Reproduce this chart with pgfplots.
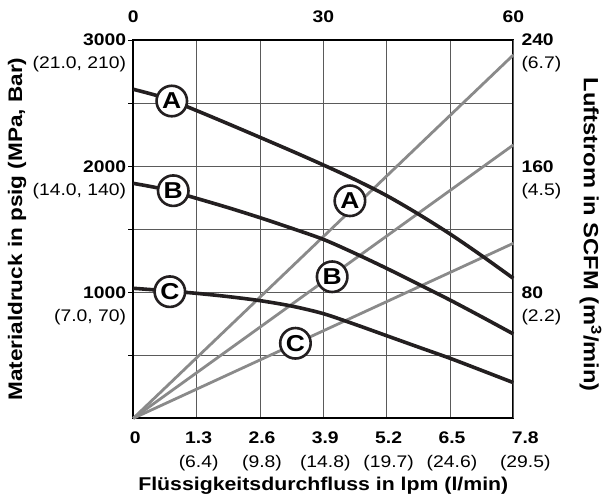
\documentclass[border=0pt]{standalone}
\usepackage{fontspec}
\setmainfont[FakeStretch=1.15]{Liberation Sans}
\usepackage{pgfplots}
\usepackage{pgfplotstable}
\pgfplotsset{compat=1.18}

\definecolor{curve}{HTML}{231F20}
\definecolor{air}{HTML}{8A8A8A}
\definecolor{gridc}{HTML}{5A5A5A}

\pgfplotstableread{
x y
0    2609
0.65 2540
1.3  2440
1.95 2335
2.6  2228
3.25 2120
3.9  2009
4.55 1893
5.2  1766
5.85 1620
6.5  1462
7.15 1290
7.8  1110
}\curveA
\pgfplotstableread{
x y
0    1863
0.65 1815
1.3  1744
1.95 1670
2.6  1591
3.25 1507
3.9  1419
4.55 1308
5.2  1189
5.85 1064
6.5  938
7.15 805
7.8  669
}\curveB
\pgfplotstableread{
x y
0    1031
0.65 1012
1.3  991
1.95 965
2.6  933
3.25 890
3.9  830
4.55 745
5.2  655
5.85 565
6.5  476
7.15 380
7.8  283
}\curveC

\tikzset{lbl/.style={circle, draw=curve, line width=2.6pt, fill=white, inner sep=0pt,
  minimum size=30.5pt, font=\fontsize{23}{23}\selectfont\bfseries}}

\begin{document}
\begin{tikzpicture}
\pgfplotsset{base/.style={width=380pt, height=378.3pt, scale only axis,
  xmin=0, xmax=7.8, ymin=0, ymax=3000, clip=false}}
% ---------- main axis: grid, frame, left and bottom labels
\begin{axis}[base,
  axis line style={line width=2.2pt, black},
  xtick={0,1.3,2.6,3.9,5.2,6.5},
  xticklabels={{\bfseries 0},{\bfseries 1.3\\(6.4)},{\bfseries 2.6\\(9.8)},
    {\bfseries 3.9\\(14.8)},{\bfseries 5.2\\(19.7)},{\bfseries 6.5\\(24.6)}},
  extra x ticks={7.8},
  extra x tick labels={{\bfseries 7.8\\(29.5)}},
  extra x tick style={xticklabel style={xshift=10pt}},
  xticklabel style={align=center, anchor=north, inner sep=0pt,
    font=\fontsize{16.8}{24.5}\selectfont, yshift=-8pt, xshift=2pt},
  ytick={1000,2000,3000}, minor ytick={500,1500,2500},
  yticklabels={{\bfseries 1000\\(7.0, 70)},{\bfseries 2000\\(14.0, 140)},{\bfseries 3000\\(21.0, 210)}},
  yticklabel style={align=right, anchor=north east, inner sep=0pt,
    font=\fontsize{16.8}{23}\selectfont, yshift=6pt, xshift=-2pt},
  grid=both,
  major grid style={gridc, line width=0.8pt},
  minor grid style={gridc, line width=0.8pt},
  xtick style={draw=none},
  ytick pos=left, xtick pos=bottom, tick align=outside,
  major tick length=5pt, minor tick length=5pt,
  ytick style={black, line width=0.8pt}, minor tick style={black, line width=0.8pt},
  xlabel={Flüssigkeitsdurchfluss in lpm (l/min)},
  xlabel style={at={(axis description cs:0.5,-0.177)}, anchor=center,
    font=\fontsize{18.5}{18.5}\selectfont\bfseries},
  ylabel={Materialdruck in psig (MPa, Bar)},
  ylabel style={at={(axis description cs:-0.306,0.5)}, anchor=center,
    font=\fontsize{19.6}{19.6}\selectfont\bfseries},
]
\coordinate (SW) at (rel axis cs:0,0);
\coordinate (NE) at (rel axis cs:1,1);
\end{axis}
% ---------- air-flow axis: top and right
\begin{axis}[width=380pt, height=378.3pt, scale only axis, clip=false,
  xmin=0, xmax=60, ymin=0, ymax=240,
  axis x line*=top, axis y line*=right,
  axis line style={draw=none},
  xtick={0,30,60}, xticklabels={{\bfseries 0},{\bfseries 30},{\bfseries 60}},
  xticklabel style={anchor=south, inner sep=0pt, font=\fontsize{16.8}{16.8}\selectfont, yshift=17pt},
  ytick={80,160,240},
  yticklabels={{\bfseries 80\\(2.2)},{\bfseries 160\\(4.5)},{\bfseries 240\\(6.7)}},
  yticklabel style={align=left, anchor=north west, inner sep=0pt,
    font=\fontsize{16.8}{23}\selectfont, yshift=6pt, xshift=8pt},
  major tick length=0pt, tick style={draw=none},
  ylabel={Luftstrom in SCFM (m\textsuperscript{3}/min)},
  ylabel style={at={(axis description cs:1.203,0.485)}, anchor=center, rotate=180,
    font=\fontsize{20.6}{20.6}\selectfont\bfseries},
]
\addplot[air, line width=2.8pt] coordinates {(0,0) (60,230.5)};
\addplot[air, line width=2.8pt] coordinates {(0,0) (60,173.4)};
\addplot[air, line width=2.8pt] coordinates {(0,0) (60,111)};
\node[lbl] at (axis cs:34.2,138) {A};
\node[lbl] at (axis cs:31.4,89.8) {B};
\node[lbl] at (axis cs:25.6,47.6) {C};
\end{axis}
% ---------- pressure curves on top
\begin{axis}[base, hide axis]
\addplot[curve, line width=3.6pt, smooth] table[x=x,y=y] {\curveA};
\addplot[curve, line width=3.6pt, smooth] table[x=x,y=y] {\curveB};
\addplot[curve, line width=3.6pt, smooth] table[x=x,y=y] {\curveC};
\node[lbl] at (axis cs:0.79,2516) {A};
\node[lbl] at (axis cs:0.82,1805) {B};
\node[lbl] at (axis cs:0.75,1004) {C};
\end{axis}
\pgfresetboundingbox
\path ([xshift=-133.3pt,yshift=-77.7pt]SW) rectangle ([xshift=89.7pt,yshift=40pt]NE);
\end{tikzpicture}
\end{document}
